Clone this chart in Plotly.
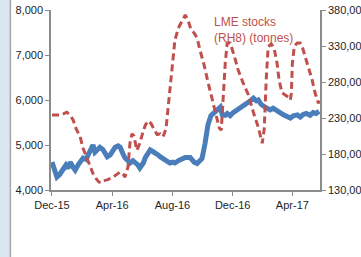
import plotly.graph_objects as go

# Aluminium price (LHS, US$/t)
price_dates = ["2015-12-01","2015-12-07","2015-12-11","2015-12-17","2015-12-23","2015-12-29",
    "2016-01-02","2016-01-07","2016-01-13","2016-01-17","2016-01-23","2016-01-29",
    "2016-02-02","2016-02-08","2016-02-12","2016-02-16","2016-02-22","2016-02-26",
    "2016-03-03","2016-03-07","2016-03-13","2016-03-18","2016-03-22","2016-03-28",
    "2016-04-01","2016-04-07","2016-04-13","2016-04-17","2016-04-23","2016-04-27",
    "2016-05-03","2016-05-07","2016-05-13","2016-05-17","2016-05-23","2016-05-27",
    "2016-06-03","2016-06-07","2016-06-13","2016-06-17","2016-06-23","2016-06-27",
    "2016-07-03","2016-07-07","2016-07-13","2016-07-17","2016-07-23","2016-07-27",
    "2016-08-02","2016-08-06","2016-08-13","2016-08-17","2016-08-27","2016-09-06",
    "2016-09-14","2016-09-20","2016-09-26","2016-09-30","2016-10-06","2016-10-12",
    "2016-10-18","2016-10-23","2016-10-29","2016-11-06","2016-11-10","2016-11-16",
    "2016-11-20","2016-11-26","2016-12-02","2016-12-10","2016-12-16","2016-12-22",
    "2016-12-28","2017-01-06","2017-01-12","2017-01-18","2017-01-22","2017-01-28",
    "2017-02-05","2017-02-11","2017-02-15","2017-02-21","2017-03-01","2017-03-07",
    "2017-03-14","2017-03-22","2017-03-28","2017-04-03","2017-04-11","2017-04-17",
    "2017-04-23","2017-04-29","2017-05-07","2017-05-13","2017-05-19","2017-05-25"]
price_values = [4620,4450,4290,4350,4450,4550,
    4480,4620,4500,4440,4560,4650,
    4710,4680,4780,4820,5000,4840,
    4900,4950,4900,4800,4740,4780,
    4840,4950,4980,4950,4800,4710,
    4650,4600,4650,4620,4560,4490,
    4600,4720,4820,4890,4850,4830,
    4780,4740,4700,4670,4640,4600,
    4620,4600,4650,4670,4720,4720,
    4620,4590,4640,4700,5030,5450,
    5650,5710,5750,5840,5670,5660,
    5700,5650,5720,5780,5820,5840,
    5900,5980,6040,5980,6000,5900,
    5840,5800,5780,5820,5780,5720,
    5670,5620,5600,5650,5670,5620,
    5680,5700,5660,5720,5700,5750]

# LME stocks (RHS, tonnes)
stock_dates = ["2015-12-01","2015-12-09","2015-12-17","2015-12-25","2015-12-31",
    "2016-01-07","2016-01-13","2016-01-19","2016-01-23","2016-01-27",
    "2016-02-02","2016-02-08","2016-02-12","2016-02-18","2016-02-22","2016-02-28",
    "2016-03-05","2016-03-09","2016-03-15","2016-03-22","2016-03-28",
    "2016-04-03","2016-04-11","2016-04-17","2016-04-23","2016-04-27",
    "2016-05-03","2016-05-07","2016-05-11","2016-05-15","2016-05-21","2016-05-27",
    "2016-06-03","2016-06-07","2016-06-13","2016-06-19","2016-06-25",
    "2016-07-01","2016-07-07","2016-07-13","2016-07-19","2016-07-25","2016-07-31",
    "2016-08-06","2016-08-13","2016-08-21","2016-08-27",
    "2016-09-02","2016-09-08","2016-09-14","2016-09-20","2016-09-26",
    "2016-10-04","2016-10-12","2016-10-21","2016-10-29",
    "2016-11-04","2016-11-08","2016-11-12","2016-11-16","2016-11-20","2016-11-26",
    "2016-12-04","2016-12-12","2016-12-22",
    "2017-01-02","2017-01-12","2017-01-22","2017-01-30",
    "2017-02-03","2017-02-07","2017-02-11","2017-02-17","2017-02-23",
    "2017-03-01","2017-03-05","2017-03-11","2017-03-18","2017-03-24","2017-03-28","2017-03-30",
    "2017-04-01","2017-04-05","2017-04-11","2017-04-17","2017-04-21","2017-04-27",
    "2017-05-03","2017-05-11","2017-05-17","2017-05-23","2017-05-27"]
stock_values = [234000,234000,234000,236000,238000,
    234000,227000,215000,209000,204000,
    188000,178000,172000,162000,153000,146000,
    141000,140000,143000,144000,146000,
    148000,152000,155000,152000,148000,
    162000,195000,208000,205000,185000,195000,
    212000,220000,226000,222000,214000,
    207000,208000,204000,215000,255000,297000,
    338000,355000,366000,373000,
    365000,352000,348000,341000,324000,
    304000,280000,255000,234000,
    216000,213000,262000,306000,334000,334000,
    317000,297000,279000,
    262000,238000,217000,195000,
    215000,283000,329000,333000,327000,
    306000,283000,265000,262000,259000,255000,265000,
    306000,330000,334000,334000,329000,315000,
    301000,283000,265000,252000,252000]

tick_dates = ["2015-12-01","2016-04-01","2016-08-01","2016-12-01","2017-04-01"]
tick_labels = ["Dec-15","Apr-16","Aug-16","Dec-16","Apr-17"]
left_ticks = [4000, 5000, 6000, 7000, 8000]
right_ticks = [130000, 180000, 230000, 280000, 330000, 380000]

BLUE = "#4a7ebb"
RED = "#c0504d"
AXIS = "#8c8c8c"
FONT = dict(family="Liberation Sans, Arial, sans-serif", size=11, color="#1e1e28")

fig = go.Figure()
fig.add_trace(go.Scatter(x=price_dates, y=price_values, mode="lines",
                         line=dict(color=BLUE, width=5), showlegend=False))
fig.add_trace(go.Scatter(x=stock_dates, y=stock_values, mode="lines", yaxis="y2",
                         line=dict(color=RED, width=3, dash="7px,4px"), showlegend=False))

fig.update_layout(
    template="none",
    width=361, height=257,
    margin=dict(l=51, r=41, t=10, b=67, autoexpand=False),
    paper_bgcolor="white", plot_bgcolor="white",
    font=FONT,
    xaxis=dict(type="date", range=["2015-11-29", "2017-05-27"],
               tickvals=tick_dates, ticktext=tick_labels, automargin=False,
               showgrid=False, zeroline=False, showline=True, linecolor=AXIS, linewidth=1.5,
               ticks="outside", ticklen=4, tickcolor=AXIS, tickangle=0),
    yaxis=dict(range=[4000, 8000], tickvals=left_ticks, tickformat=",", automargin=False,
               showgrid=False, zeroline=False, showline=True, linecolor=AXIS, linewidth=1.5,
               ticks="outside", ticklen=4, tickcolor=AXIS),
    yaxis2=dict(range=[130000, 380000], tickvals=right_ticks, tickformat=",", overlaying="y",
                side="right", automargin=False,
                showgrid=False, zeroline=False, showline=True, linecolor=AXIS, linewidth=1.5,
                ticks="outside", ticklen=4, tickcolor=AXIS),
    shapes=[
        dict(type="rect", xref="paper", yref="paper", x0=-0.19, x1=-0.152, y0=-0.5, y1=1.1,
             fillcolor="#dde7f1", line=dict(width=0), layer="below"),
        dict(type="line", xref="paper", yref="paper", x0=-0.151, x1=-0.151, y0=-0.5, y1=1.1,
             line=dict(color="#a6a6a6", width=1.5)),
    ],
    annotations=[
        dict(text="LME stocks<br>(RH8) (tonnes)", xref="paper", yref="paper",
             x=0.6, y=0.985, xanchor="left", yanchor="top", align="left", showarrow=False,
             font=dict(family="Liberation Sans, Arial, sans-serif", size=12, color=RED)),
    ],
)

fig.write_html("out.html", config={"displayModeBar": False},
               post_script="document.body.style.margin='0';")
